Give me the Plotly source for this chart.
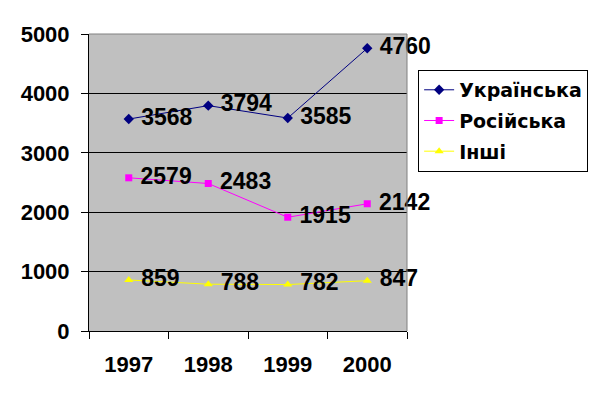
import plotly.graph_objects as go

years = ["1997", "1998", "1999", "2000"]
ukr = [3568, 3794, 3585, 4760]
ros = [2579, 2483, 1915, 2142]
other = [859, 788, 782, 847]
names = ["Українська", "Російська", "Інші"]
colors = ["#000080", "#FF00FF", "#FFFF00"]
symbols = ["diamond", "square", "triangle-up"]
sizes = [8, 7, 8]
ytickvals = [0, 1000, 2000, 3000, 4000, 5000]

FONT = "Liberation Sans, Arial, sans-serif"
LFONT = "DejaVu Sans, sans-serif"

fig = go.Figure()
for i, (vals, name, col, sym, sz) in enumerate(zip([ukr, ros, other], names, colors, symbols, sizes)):
    fig.add_trace(go.Scatter(
        x=years, y=vals, name=name, mode="lines+markers+text",
        legendgroup="g%d" % i,
        line=dict(color=col, width=1),
        marker=dict(symbol=sym, size=sz, color=col),
        text=[" " + str(v) for v in vals], textposition="middle right",
        textfont=dict(family=FONT, size=23, color="black", weight="bold"),
        cliponaxis=False,
    ))

fig.update_layout(
    width=599, height=399,
    margin=dict(l=89, r=192, t=34, b=68, autoexpand=False),
    paper_bgcolor="white", plot_bgcolor="#C0C0C0",
    font=dict(family=FONT, color="black"),
    legend=dict(x=1.035, y=0.879, xanchor="left", yanchor="top",
                bgcolor="white", bordercolor="black", borderwidth=1,
                font=dict(family=LFONT, size=19, color="black", weight="bold"),
                itemwidth=30, tracegroupgap=3),
    xaxis=dict(type="category", range=[-0.5, 3.5], tickson="boundaries",
               ticks="outside", ticklen=7, tickcolor="black", tickwidth=1,
               showline=True, linecolor="black", linewidth=1, showgrid=False,
               tickfont=dict(family=FONT, size=22, color="black", weight="bold"),
               ticklabelstandoff=14),
    yaxis=dict(range=[0, 5000], tickvals=ytickvals,
               ticks="outside", ticklen=7, tickcolor="black", tickwidth=1,
               showline=True, linecolor="black", linewidth=1,
               showgrid=True, gridcolor="black", gridwidth=1, zeroline=False,
               tickfont=dict(family=FONT, size=22, color="black", weight="bold"),
               ticklabelstandoff=7),
)
fig.add_shape(type="line", xref="paper", yref="paper", x0=0, x1=1, y0=1, y1=1,
              line=dict(color="#808080", width=1))
fig.add_shape(type="line", xref="paper", yref="paper", x0=1, x1=1, y0=0, y1=1,
              line=dict(color="#808080", width=1))

fig.write_html("out.html")
